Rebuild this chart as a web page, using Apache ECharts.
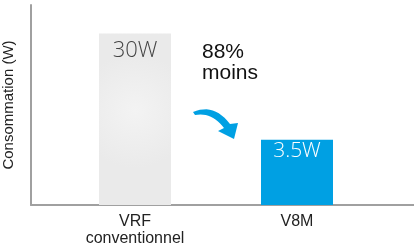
<!DOCTYPE html>
<html>
<head>
<meta charset="utf-8">
<style>
  html, body { margin: 0; padding: 0; background: #fff; }
  #chart { width: 414px; height: 247px; }
</style>
<script src="https://cdn.jsdelivr.net/npm/echarts@6/dist/echarts.min.js"></script>
</head>
<body>
<div id="chart"></div>
<script>
const categories = ['VRF\nconventionnel', 'V8M'];
// bar heights as drawn in the picture (not to scale with the labels)
const barHeights = [30, 11.4];
const barLabels = ['30W', '3.5W'];
const annotation = '88%\nmoins';

const chart = echarts.init(document.getElementById('chart'), null, { renderer: 'canvas' });

// quadratic curve sampled into points, for the curved arrow outline
function quad(p0, c, p1, n) {
  const pts = [];
  for (let i = 0; i <= n; i++) {
    const t = i / n, u = 1 - t;
    pts.push([u * u * p0[0] + 2 * u * t * c[0] + t * t * p1[0], u * u * p0[1] + 2 * u * t * c[1] + t * t * p1[1]]);
  }
  return pts;
}
const arrowPts = [
  ...quad([193, 112], [214, 103], [230, 124], 12),
  [238, 123], [234, 139], [218, 131],
  ...quad([224, 128], [212, 112], [195, 115], 12),
];

const barStyles = [
  {
    color: new echarts.graphic.RadialGradient(0.5, 0.45, 0.8, [{ offset: 0, color: '#f3f3f3' }, { offset: 1, color: '#eaeaea' }]),
    label: { color: '#444', fontSize: 22, distance: 6 },
  },
  {
    color: '#00a0e3',
    label: { color: '#fff', fontSize: 21, distance: 1 },
  },
];

chart.setOption({
  animation: false,
  backgroundColor: '#fff',
  grid: [
    { left: 54, right: 36, top: 5, bottom: 42, outerBoundsMode: 'none' },
    { left: 31, right: 0, top: 5, bottom: 42, outerBoundsMode: 'none' },
  ],
  xAxis: [
    {
      type: 'category', gridIndex: 0, data: categories,
      axisLine: { show: false }, axisTick: { show: false },
      axisLabel: { color: '#222', fontSize: 16, lineHeight: 17, margin: 8, fontFamily: 'Liberation Sans, Arial, sans-serif' },
    },
    {
      type: 'value', gridIndex: 1, min: 0, max: 1,
      axisLine: { show: true, lineStyle: { color: '#a0a0a0', width: 2 } },
      axisTick: { show: false }, axisLabel: { show: false }, splitLine: { show: false },
    },
  ],
  yAxis: [
    {
      type: 'value', gridIndex: 0, min: 0, max: 35, offset: 23,
      name: 'Consommation (W)', nameLocation: 'middle', nameGap: 15,
      nameTextStyle: { color: '#222', fontSize: 15, fontFamily: 'Liberation Sans, Arial, sans-serif' },
      axisLine: { show: true, lineStyle: { color: '#a0a0a0', width: 2 } },
      axisTick: { show: false }, axisLabel: { show: false }, splitLine: { show: false },
    },
    {
      type: 'value', gridIndex: 1, min: 0, max: 1, show: false,
    },
  ],
  series: [{
    type: 'bar',
    xAxisIndex: 0, yAxisIndex: 0,
    barWidth: 72,
    data: barHeights.map((v, i) => ({
      value: v,
      itemStyle: { color: barStyles[i].color },
      label: {
        show: true, position: 'insideTop', formatter: barLabels[i],
        fontFamily: 'Open Sans, sans-serif', fontWeight: 300,
        ...barStyles[i].label,
      },
    })),
  }],
  graphic: [
    {
      type: 'text', left: 202, top: 42,
      style: { text: annotation, fill: '#111', fontSize: 21, lineHeight: 21, fontFamily: 'Liberation Sans, Arial, sans-serif' },
    },
    {
      type: 'polygon',
      shape: { points: arrowPts },
      style: { fill: '#00a0e3' },
    },
  ],
});
</script>
</body>
</html>
